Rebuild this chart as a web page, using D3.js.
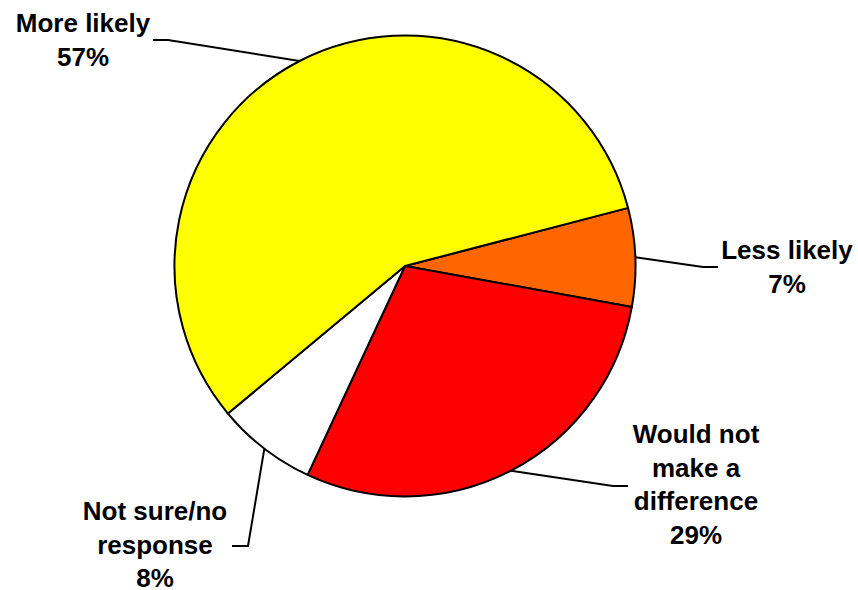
<!DOCTYPE html>
<html>
<head>
<meta charset="utf-8">
<script src="https://cdn.jsdelivr.net/npm/d3@7"></script>
<style>
  body { margin: 0; background: #fff; }
  text { font-family: "Liberation Sans", Arial, sans-serif; font-weight: bold; font-size: 26px; fill: #000; }
</style>
</head>
<body>
<svg id="chart" width="858" height="590"></svg>
<script>
// data (slice sizes as drawn, labels as printed)
const categories = ['Less likely', 'Would not make a difference', 'Not sure/no response', 'More likely'];
const values = [6.9, 29.1, 7.0, 57.0];
const percentLabels = ['7%', '29%', '8%', '57%'];
const colors = ['#ff6600', '#ff0000', '#ffffff', '#ffff00'];

// label layout: text lines, anchor, leader elbow and end
const labelLines = [
    ['Less likely'],
    ['Would not', 'make a', 'difference'],
    ['Not sure/no', 'response'],
    ['More likely']
];
const labelPos = [
    { x: 787, y: 259, elbow: [703, 267], end: [718, 267] },
    { x: 696, y: 443, elbow: [613, 486], end: [628, 486] },
    { x: 155, y: 520, elbow: [248, 546], end: [232, 546] },
    { x: 83, y: 32, elbow: [168, 40], end: [153, 40] }
];

const svg = d3.select('#chart');
const cx = 405, cy = 266, r = 230.5;
const startDeg = 75.4;

const pie = d3.pie().sort(null).value(d => d)
    .startAngle(startDeg * Math.PI / 180)
    .endAngle((startDeg + 360) * Math.PI / 180);
const arcs = pie(values);
const arc = d3.arc().innerRadius(0).outerRadius(r);

let g = svg.append('g').attr('transform', 'translate(' + cx + ',' + cy + ')');

g.selectAll('path.slice')
    .data(arcs)
    .enter().append('path')
    .attr('class', 'slice')
    .attr('d', arc)
    .attr('fill', (d, i) => colors[i])
    .attr('stroke', '#000')
    .attr('stroke-width', 2)
    .attr('stroke-linejoin', 'round');

// leader lines from the arc at mid angle
arcs.forEach(function(d, i) {
    let mid = (d.startAngle + d.endAngle) / 2;
    let sx = cx + r * Math.sin(mid), sy = cy - r * Math.cos(mid);
    let p = labelPos[i];
    svg.append('polyline')
        .attr('points', [[sx, sy], p.elbow, p.end].map(q => q.join(',')).join(' '))
        .attr('fill', 'none')
        .attr('stroke', '#000')
        .attr('stroke-width', 2);
});

labelLines.forEach(function(lines, i) {
    let p = labelPos[i];
    let t = svg.append('text')
        .attr('text-anchor', 'middle')
        .attr('x', p.x)
        .attr('y', p.y);
    lines.concat([percentLabels[i]]).forEach(function(line, j) {
        t.append('tspan')
            .attr('x', p.x)
            .attr('dy', j == 0 ? 0 : 33.5)
            .text(line);
    });
});
</script>
</body>
</html>
